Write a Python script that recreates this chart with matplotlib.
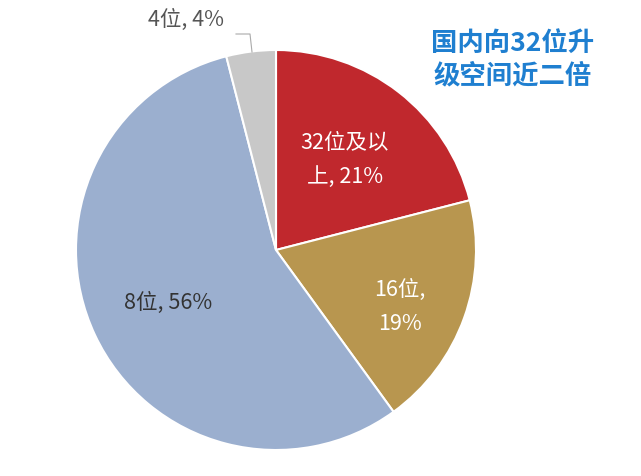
import matplotlib
matplotlib.use("Agg")
import matplotlib.pyplot as plt

plt.rcParams['font.family'] = ['Noto Sans CJK SC', 'DejaVu Sans']

categories = ["32位及以上", "16位", "8位", "4位"]
values = [21, 19, 56, 4]
labels = ["32位及以\n上, 21%", "16位,\n19%", "8位, 56%", "4位, 4%"]
colors = ["#C0282D", "#B8964F", "#9BAFCF", "#C8C8C8"]

fig = plt.figure(figsize=(6.41, 4.76), dpi=100)
ax = fig.add_axes([76/641, 26/476, 400/641, 400/476])
ax.pie(values, colors=colors, startangle=90, counterclock=False, radius=1,
       wedgeprops=dict(edgecolor="white", linewidth=1.5))
ax.set_xlim(-1, 1); ax.set_ylim(-1, 1); ax.set_aspect('equal')
ax.axis('off')

def d(px, py):
    return ((px-276)/200, (250-py)/200)

fs = 15.5
ax.text(*d(345, 160), labels[0], color="white", fontsize=fs, ha="center", va="center", linespacing=1.7)
ax.text(*d(400, 307), labels[1], color="white", fontsize=fs, ha="center", va="center", linespacing=1.7)
ax.text(*d(168, 303), labels[2], color="#333333", fontsize=fs, ha="center", va="center")
ax.text(*d(186, 20), labels[3], color="#555555", fontsize=fs, ha="center", va="center", clip_on=False)
xs, ys = zip(d(236, 34), d(250, 34), d(252, 52))
ax.plot(xs, ys, color="#AAAAAA", lw=0.8, clip_on=False)

fig.text(513/641, 1-60/476, "国内向32位升\n级空间近二倍", color="#1F7FD0", fontsize=19,
         fontweight="bold", ha="center", va="center", linespacing=1.25)

fig.savefig("out.png", dpi=100, facecolor="white")
